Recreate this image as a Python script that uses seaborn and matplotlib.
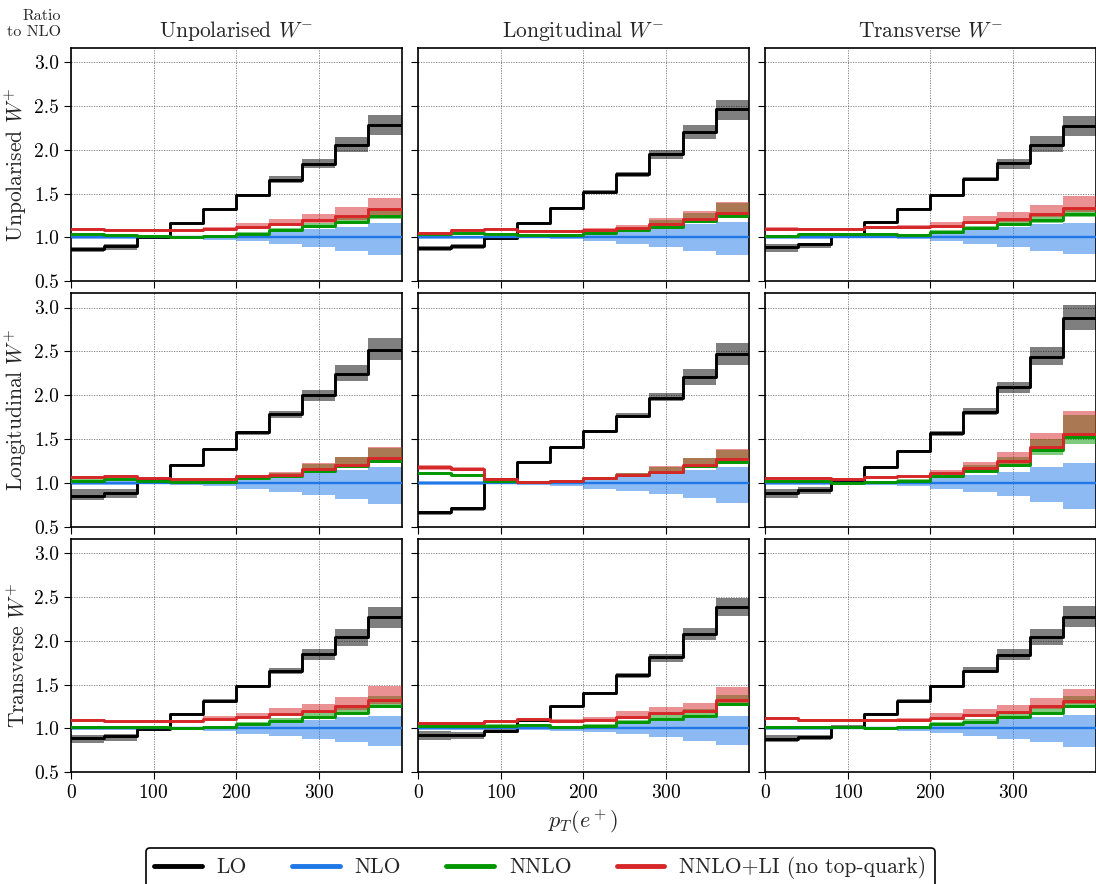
import numpy as np
import matplotlib
matplotlib.use("Agg")
import matplotlib.pyplot as plt
import seaborn as sns
from matplotlib.lines import Line2D

# ---------------- data ----------------
EDGES = [0, 40, 80, 120, 160, 200, 240, 280, 320, 360, 400]
COL_TITLES = ["Unpolarised $W^{-}$", "Longitudinal $W^{-}$", "Transverse $W^{-}$"]
ROW_LABELS = ["Unpolarised $W^{+}$", "Longitudinal $W^{+}$", "Transverse $W^{+}$"]
SERIES = ["LO", "NLO", "NNLO", "NNLO+LI (no top-quark)"]

# panels ordered row by row: (UU, UL, UT), (LU, LL, LT), (TU, TL, TT)
LO = [
    [0.87, 0.90, 1.00, 1.16, 1.32, 1.48, 1.66, 1.84, 2.05, 2.28],
    [0.885, 0.90, 0.99, 1.17, 1.34, 1.52, 1.72, 1.955, 2.20, 2.46],
    [0.89, 0.925, 1.03, 1.18, 1.325, 1.48, 1.665, 1.846, 2.054, 2.27],
    [0.856, 0.886, 1.04, 1.21, 1.39, 1.58, 1.785, 2.00, 2.24, 2.52],
    [0.666, 0.71, 1.045, 1.24, 1.41, 1.59, 1.766, 1.97, 2.21, 2.47],
    [0.886, 0.917, 1.027, 1.18, 1.36, 1.575, 1.81, 2.09, 2.44, 2.886],
    [0.888, 0.915, 0.995, 1.16, 1.315, 1.485, 1.65, 1.845, 2.04, 2.265],
    [0.92, 0.92, 0.97, 1.10, 1.25, 1.40, 1.61, 1.81, 2.08, 2.38],
    [0.876, 0.907, 1.02, 1.165, 1.318, 1.485, 1.656, 1.84, 2.037, 2.27],
]
LO_LOW = [
    [0.83, 0.86, 0.98, 1.15, 1.31, 1.47, 1.62, 1.79, 1.97, 2.17],
    [0.85, 0.87, 0.98, 1.16, 1.33, 1.51, 1.69, 1.89, 2.12, 2.34],
    [0.84, 0.88, 1.01, 1.17, 1.31, 1.47, 1.64, 1.78, 1.97, 2.16],
    [0.80, 0.83, 1.02, 1.20, 1.38, 1.55, 1.74, 1.93, 2.16, 2.40],
    [0.63, 0.68, 1.03, 1.23, 1.40, 1.57, 1.74, 1.93, 2.12, 2.35],
    [0.83, 0.87, 1.01, 1.17, 1.35, 1.54, 1.77, 2.02, 2.35, 2.745],
    [0.83, 0.86, 0.98, 1.15, 1.30, 1.47, 1.62, 1.78, 1.945, 2.15],
    [0.87, 0.88, 0.95, 1.09, 1.24, 1.39, 1.57, 1.76, 2.01, 2.28],
    [0.84, 0.87, 1.00, 1.155, 1.31, 1.47, 1.64, 1.775, 1.95, 2.155],
]
LO_HIGH = [
    [0.89, 0.92, 1.01, 1.17, 1.33, 1.50, 1.70, 1.90, 2.15, 2.40],
    [0.90, 0.92, 1.01, 1.18, 1.35, 1.54, 1.75, 2.00, 2.28, 2.57],
    [0.92, 0.94, 1.04, 1.19, 1.34, 1.50, 1.69, 1.90, 2.16, 2.38],
    [0.93, 0.93, 1.05, 1.22, 1.40, 1.59, 1.815, 2.06, 2.34, 2.65],
    [0.685, 0.73, 1.055, 1.25, 1.42, 1.60, 1.80, 2.03, 2.30, 2.59],
    [0.935, 0.95, 1.04, 1.19, 1.37, 1.59, 1.855, 2.15, 2.55, 3.03],
    [0.925, 0.94, 1.01, 1.17, 1.33, 1.50, 1.69, 1.905, 2.13, 2.38],
    [0.965, 0.96, 0.99, 1.11, 1.26, 1.41, 1.63, 1.85, 2.15, 2.49],
    [0.92, 0.93, 1.04, 1.175, 1.33, 1.50, 1.70, 1.905, 2.13, 2.39],
]
NLO = [1.0] * 10
NLO_LOW = [
    [0.98, 0.98, 0.99, 0.985, 0.975, 0.955, 0.92, 0.89, 0.85, 0.80],
    [0.985, 0.985, 0.99, 0.99, 0.985, 0.955, 0.92, 0.89, 0.845, 0.796],
    [0.985, 0.985, 0.99, 0.99, 0.985, 0.955, 0.925, 0.89, 0.85, 0.81],
    [0.98, 0.98, 0.99, 0.98, 0.96, 0.93, 0.90, 0.86, 0.82, 0.765],
    [0.98, 0.98, 0.99, 0.98, 0.96, 0.935, 0.905, 0.87, 0.83, 0.77],
    [0.98, 0.98, 0.99, 0.98, 0.96, 0.935, 0.90, 0.85, 0.78, 0.70],
    [0.98, 0.98, 0.99, 0.98, 0.965, 0.94, 0.915, 0.877, 0.84, 0.80],
    [0.98, 0.98, 0.99, 0.98, 0.97, 0.957, 0.935, 0.90, 0.86, 0.81],
    [0.98, 0.98, 0.99, 0.98, 0.965, 0.945, 0.915, 0.877, 0.84, 0.79],
]
NLO_HIGH = [
    [1.02, 1.02, 1.01, 1.01, 1.015, 1.04, 1.06, 1.10, 1.125, 1.166],
    [1.02, 1.02, 1.01, 1.01, 1.02, 1.04, 1.08, 1.125, 1.15, 1.174],
    [1.02, 1.02, 1.01, 1.01, 1.015, 1.06, 1.10, 1.12, 1.15, 1.16],
    [1.02, 1.02, 1.01, 1.01, 1.02, 1.05, 1.075, 1.125, 1.145, 1.18],
    [1.02, 1.02, 1.01, 1.01, 1.027, 1.045, 1.076, 1.11, 1.15, 1.18],
    [1.02, 1.02, 1.01, 1.01, 1.02, 1.064, 1.095, 1.13, 1.18, 1.23],
    [1.02, 1.02, 1.01, 1.01, 1.015, 1.03, 1.06, 1.10, 1.125, 1.145],
    [1.02, 1.02, 1.01, 1.01, 1.015, 1.03, 1.06, 1.09, 1.117, 1.147],
    [1.02, 1.02, 1.01, 1.01, 1.015, 1.04, 1.086, 1.105, 1.135, 1.155],
]
NNLO = [
    [1.035, 1.03, 1.02, 1.01, 1.02, 1.045, 1.08, 1.136, 1.18, 1.25],
    [1.038, 1.05, 1.04, 1.03, 1.03, 1.05, 1.08, 1.125, 1.19, 1.25],
    [1.015, 1.04, 1.04, 1.04, 1.03, 1.06, 1.105, 1.155, 1.20, 1.27],
    [1.027, 1.04, 1.02, 1.01, 1.015, 1.057, 1.076, 1.14, 1.19, 1.25],
    [1.11, 1.095, 1.02, 1.01, 1.02, 1.057, 1.087, 1.125, 1.19, 1.235],
    [1.02, 1.02, 1.00, 1.01, 1.027, 1.076, 1.14, 1.21, 1.38, 1.52],
    [1.02, 1.02, 1.02, 1.006, 1.014, 1.05, 1.086, 1.125, 1.18, 1.257],
    [1.033, 1.033, 1.033, 1.04, 1.02, 1.03, 1.07, 1.11, 1.147, 1.276],
    [1.014, 1.02, 1.02, 1.01, 1.02, 1.05, 1.078, 1.125, 1.18, 1.25],
]
NNLO_LOW = [
    [1.025, 1.02, 1.01, 1.00, 1.01, 1.03, 1.06, 1.11, 1.15, 1.21],
    [1.028, 1.04, 1.03, 1.02, 1.02, 1.04, 1.07, 1.11, 1.17, 1.23],
    [1.005, 1.03, 1.03, 1.03, 1.02, 1.05, 1.09, 1.13, 1.17, 1.23],
    [1.017, 1.03, 1.01, 1.00, 1.005, 1.045, 1.065, 1.12, 1.17, 1.225],
    [1.10, 1.085, 1.01, 1.00, 1.01, 1.045, 1.075, 1.11, 1.17, 1.225],
    [1.01, 1.01, 0.99, 1.00, 1.015, 1.06, 1.12, 1.18, 1.32, 1.44],
    [1.01, 1.01, 1.01, 0.996, 1.004, 1.035, 1.07, 1.105, 1.16, 1.235],
    [1.023, 1.023, 1.023, 1.03, 1.01, 1.02, 1.055, 1.095, 1.13, 1.25],
    [1.004, 1.01, 1.01, 1.00, 1.01, 1.035, 1.065, 1.105, 1.16, 1.23],
]
NNLO_HIGH = [
    [1.045, 1.04, 1.03, 1.02, 1.03, 1.06, 1.11, 1.17, 1.24, 1.33],
    [1.05, 1.06, 1.05, 1.04, 1.04, 1.07, 1.11, 1.20, 1.28, 1.39],
    [1.025, 1.05, 1.05, 1.05, 1.04, 1.08, 1.13, 1.19, 1.26, 1.34],
    [1.04, 1.05, 1.03, 1.02, 1.025, 1.07, 1.11, 1.22, 1.29, 1.40],
    [1.12, 1.105, 1.03, 1.02, 1.03, 1.07, 1.11, 1.18, 1.28, 1.38],
    [1.03, 1.03, 1.01, 1.02, 1.04, 1.10, 1.20, 1.30, 1.50, 1.77],
    [1.03, 1.03, 1.03, 1.016, 1.03, 1.07, 1.12, 1.18, 1.26, 1.37],
    [1.045, 1.045, 1.045, 1.05, 1.03, 1.05, 1.10, 1.16, 1.22, 1.38],
    [1.025, 1.03, 1.03, 1.02, 1.03, 1.07, 1.11, 1.18, 1.26, 1.37],
]
LI = [
    [1.095, 1.085, 1.09, 1.09, 1.10, 1.115, 1.155, 1.20, 1.25, 1.32],
    [1.05, 1.09, 1.10, 1.07, 1.07, 1.09, 1.11, 1.155, 1.21, 1.275],
    [1.10, 1.10, 1.10, 1.12, 1.115, 1.13, 1.18, 1.21, 1.27, 1.34],
    [1.065, 1.076, 1.057, 1.04, 1.04, 1.076, 1.095, 1.16, 1.20, 1.28],
    [1.18, 1.16, 1.05, 1.01, 1.02, 1.06, 1.09, 1.13, 1.20, 1.27],
    [1.057, 1.057, 1.045, 1.068, 1.076, 1.114, 1.17, 1.245, 1.41, 1.557],
    [1.10, 1.08, 1.086, 1.086, 1.105, 1.135, 1.16, 1.20, 1.25, 1.325],
    [1.06, 1.066, 1.09, 1.105, 1.09, 1.097, 1.128, 1.17, 1.20, 1.325],
    [1.124, 1.097, 1.097, 1.097, 1.097, 1.124, 1.155, 1.19, 1.25, 1.318],
]
LI_LOW = [
    [1.085, 1.075, 1.08, 1.08, 1.09, 1.10, 1.13, 1.16, 1.20, 1.26],
    [1.04, 1.08, 1.09, 1.06, 1.06, 1.08, 1.10, 1.14, 1.20, 1.25],
    [1.09, 1.09, 1.09, 1.10, 1.10, 1.11, 1.15, 1.18, 1.23, 1.29],
    [1.055, 1.066, 1.047, 1.03, 1.03, 1.065, 1.08, 1.14, 1.19, 1.24],
    [1.15, 1.14, 1.04, 1.00, 1.01, 1.05, 1.08, 1.11, 1.18, 1.23],
    [1.047, 1.047, 1.035, 1.058, 1.066, 1.10, 1.15, 1.21, 1.36, 1.51],
    [1.09, 1.07, 1.076, 1.076, 1.095, 1.12, 1.14, 1.17, 1.21, 1.28],
    [1.05, 1.056, 1.08, 1.095, 1.08, 1.085, 1.11, 1.15, 1.17, 1.28],
    [1.114, 1.087, 1.087, 1.087, 1.087, 1.11, 1.14, 1.17, 1.22, 1.28],
]
LI_HIGH = [
    [1.11, 1.095, 1.10, 1.10, 1.12, 1.167, 1.21, 1.27, 1.35, 1.45],
    [1.065, 1.10, 1.11, 1.08, 1.08, 1.11, 1.14, 1.22, 1.30, 1.41],
    [1.12, 1.11, 1.11, 1.13, 1.14, 1.18, 1.24, 1.29, 1.37, 1.475],
    [1.075, 1.086, 1.067, 1.05, 1.05, 1.09, 1.13, 1.23, 1.30, 1.41],
    [1.21, 1.18, 1.06, 1.02, 1.03, 1.07, 1.11, 1.19, 1.285, 1.39],
    [1.07, 1.07, 1.06, 1.08, 1.09, 1.15, 1.235, 1.35, 1.565, 1.82],
    [1.11, 1.09, 1.096, 1.10, 1.14, 1.18, 1.23, 1.28, 1.355, 1.485],
    [1.07, 1.076, 1.10, 1.115, 1.11, 1.13, 1.20, 1.24, 1.29, 1.467],
    [1.134, 1.107, 1.107, 1.107, 1.12, 1.17, 1.22, 1.27, 1.352, 1.447],
]
Y_TICKS = [0.5, 1.0, 1.5, 2.0, 2.5, 3.0]
X_TICKS = [0, 100, 200, 300]

COLORS = ["#000000", "#1f77e8", "#009600", "#d62728"]

# ---------------- style ----------------
sns.set_style("ticks")
plt.rcParams.update({
    "font.family": "serif",
    "font.serif": ["cmr10"],
    "mathtext.fontset": "cm",
    "axes.formatter.use_mathtext": True,
    "axes.unicode_minus": False,
    "axes.edgecolor": "black",
    "axes.linewidth": 1.2,
    "xtick.color": "black",
    "ytick.color": "black",
    "xtick.direction": "out",
    "ytick.direction": "out",
    "xtick.major.size": 5,
    "ytick.major.size": 5,
})

fig, axes = plt.subplots(3, 3, figsize=(10.96, 8.84), dpi=100, sharex=True, sharey=True)
fig.subplots_adjust(left=0.0648, right=0.9997, top=0.9457, bottom=0.1264,
                    wspace=0.05, hspace=0.052)

edges = np.array(EDGES, dtype=float)


def ext(v):
    v = list(v)
    return np.array(v + [v[-1]], dtype=float)


for idx in range(9):
    r, c = divmod(idx, 3)
    ax = axes[r, c]
    series = [
        (LO[idx], LO_LOW[idx], LO_HIGH[idx], 2.1),
        (NLO, NLO_LOW[idx], NLO_HIGH[idx], 1.7),
        (NNLO[idx], NNLO_LOW[idx], NNLO_HIGH[idx], 2.1),
        (LI[idx], LI_LOW[idx], LI_HIGH[idx], 2.1),
    ]
    for k, (cen, lo, hi, lw) in enumerate(series):
        ax.fill_between(edges, ext(lo), ext(hi), step="post", color=COLORS[k],
                        alpha=0.5, lw=0, zorder=1 + k)
    for k, (cen, lo, hi, lw) in enumerate(series):
        sns.lineplot(x=edges, y=ext(cen), ax=ax, color=COLORS[k], lw=lw,
                     drawstyle="steps-post", estimator=None, sort=False,
                     zorder=10 + k, legend=False)
    ax.set_xlim(0, 400)
    ax.set_ylim(0.5, 3.16)
    ax.set_xticks(X_TICKS)
    ax.set_yticks(Y_TICKS)
    ax.set_yticklabels([f"{t:.1f}" for t in Y_TICKS])
    ax.grid(True, color="#555555", linestyle=(0, (1.5, 1.5)), linewidth=0.6, alpha=0.8)
    ax.set_axisbelow(True)
    ax.set_xlabel("")
    ax.set_ylabel("")
    for s in ax.spines.values():
        s.set_visible(True)
        s.set_color("black")
    if r == 0:
        ax.set_title(COL_TITLES[c], fontsize=15.5, pad=8)
    if c == 0:
        ax.set_ylabel(ROW_LABELS[r], fontsize=15.5, labelpad=4)
    ax.tick_params(axis="x", labelbottom=(r == 2), labelsize=14)
    ax.tick_params(axis="y", labelleft=(c == 0), labelsize=14)

axes[2, 1].set_xlabel("$p_T(e^+)$", fontsize=16, labelpad=4)

fig.text(0.056, 0.990, "Ratio\nto NLO", ha="right", va="top", fontsize=11.5,
         multialignment="right", linespacing=1.3)

handles = [Line2D([0], [0], color=col, lw=3.5) for col in COLORS]
leg = fig.legend(handles, SERIES, loc="upper center", bbox_to_anchor=(0.493, 0.041),
                 ncol=4, fontsize=15.5, frameon=True, fancybox=True, handlelength=2.2,
                 columnspacing=2.1, handletextpad=0.7, borderpad=0.4,
                 borderaxespad=0.0)
leg.get_frame().set_edgecolor("black")
leg.get_frame().set_linewidth(1.2)
leg.get_frame().set_alpha(1)

fig.savefig("out.png", dpi=100)
